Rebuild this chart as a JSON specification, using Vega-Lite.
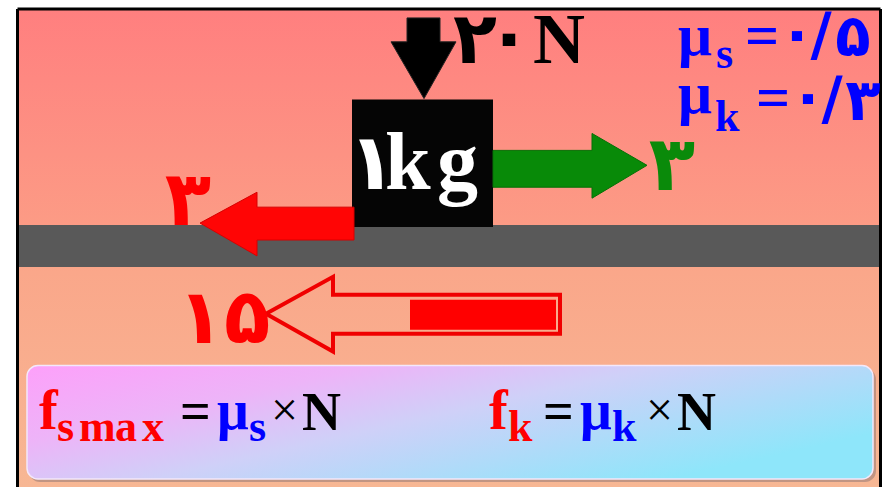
{
  "$schema": "https://vega.github.io/schema/vega-lite/v6.json",
  "autosize": {"type": "fit", "contains": "padding"},
  "width": 884,
  "height": 489,
  "padding": 0,
  "background": "white",
  "config": {"view": {"stroke": null}},
  "encoding": {
    "x": {"field": "x", "type": "quantitative", "axis": null, "scale": {"domain": [0, 884], "nice": false, "zero": false}},
    "y": {"field": "y", "type": "quantitative", "axis": null, "scale": {"domain": [0, 489], "nice": false, "zero": false, "reverse": true}}
  },
  "layer": [
    {
      "data": {"values": [{"x": 17.5, "x2": 880.5, "y": 9, "y2": 489}]},
      "mark": {"type": "rect", "fill": {"gradient": "linear", "x1": 0, "y1": 0, "x2": 0, "y2": 1, "stops": [{"offset": 0, "color": "#FF7F7F"}, {"offset": 0.45, "color": "#FC9B85"}, {"offset": 0.55, "color": "#FAA78A"}, {"offset": 1, "color": "#F7B794"}]}},
      "encoding": {"x2": {"field": "x2"}, "y2": {"field": "y2"}}
    },
    {
      "data": {"values": [{"x": 17.5, "x2": 880.5, "y": 226, "y2": 268}]},
      "mark": {"type": "rect", "fill": "#595959"},
      "encoding": {"x2": {"field": "x2"}, "y2": {"field": "y2"}}
    },
    {
      "data": {"values": [{"x": 17.5, "x2": 880.5, "y": 9, "y2": 9}, {"x": 17.5, "x2": 17.5, "y": 9, "y2": 489}, {"x": 880.5, "x2": 880.5, "y": 9, "y2": 489}]},
      "mark": {"type": "rule", "stroke": "#000000", "strokeWidth": 3},
      "encoding": {"x2": {"field": "x2"}, "y2": {"field": "y2"}}
    },
    {
      "data": {"values": [{"x": 352, "x2": 493, "y": 100, "y2": 228}]},
      "mark": {"type": "rect", "fill": "#050505"},
      "encoding": {"x2": {"field": "x2"}, "y2": {"field": "y2"}}
    },
    {
      "data": {"values": [{"y": 18, "x": 407, "x2": 440}, {"y": 42, "x": 407, "x2": 440}, {"y": 42.01, "x": 391, "x2": 456}, {"y": 99, "x": 424, "x2": 424}]},
      "mark": {"type": "area", "orient": "horizontal", "interpolate": "linear", "fill": "#000000", "stroke": "#222222", "strokeWidth": 1},
      "encoding": {"x2": {"field": "x2"}}
    },
    {
      "data": {"values": [{"x": 493, "y": 151, "y2": 188}, {"x": 592, "y": 151, "y2": 188}, {"x": 592.01, "y": 134, "y2": 199}, {"x": 647, "y": 166, "y2": 166}]},
      "mark": {"type": "area", "orient": "vertical", "interpolate": "linear", "fill": "#088A08", "stroke": "#067006", "strokeWidth": 1},
      "encoding": {"y2": {"field": "y2"}}
    },
    {
      "data": {"values": [{"x": 200, "y": 224, "y2": 224}, {"x": 257, "y": 193, "y2": 257}, {"x": 257.01, "y": 208, "y2": 241}, {"x": 354, "y": 208, "y2": 241}]},
      "mark": {"type": "area", "orient": "vertical", "interpolate": "linear", "fill": "#FF0505", "stroke": "#D80000", "strokeWidth": 1},
      "encoding": {"y2": {"field": "y2"}}
    },
    {
      "data": {"values": [{"x": 266, "y": 315, "y2": 315}, {"x": 333, "y": 278, "y2": 353}, {"x": 333.01, "y": 296, "y2": 335}, {"x": 560, "y": 296, "y2": 335}]},
      "mark": {"type": "area", "orient": "vertical", "interpolate": "linear", "fillOpacity": 0, "stroke": "#F00000", "strokeWidth": 4},
      "encoding": {"y2": {"field": "y2"}}
    },
    {
      "data": {"values": [{"x": 410, "x2": 556, "y": 301, "y2": 331}]},
      "mark": {"type": "rect", "fill": "#FF0000"},
      "encoding": {"x2": {"field": "x2"}, "y2": {"field": "y2"}}
    },
    {
      "data": {"values": [{"x": 29, "x2": 876, "y": 370, "y2": 484}]},
      "mark": {"type": "rect", "fill": "#9C7E78", "opacity": 0.6, "cornerRadius": 11},
      "encoding": {"x2": {"field": "x2"}, "y2": {"field": "y2"}}
    },
    {
      "data": {"values": [{"x": 27, "x2": 873, "y": 367, "y2": 481}]},
      "mark": {"type": "rect", "cornerRadius": 11, "stroke": "#F4E8FA", "strokeWidth": 1.5, "fill": {"gradient": "linear", "x1": 0, "y1": 0, "x2": 1, "y2": 0.6, "stops": [{"offset": 0, "color": "#FDA0FA"}, {"offset": 0.3, "color": "#EDB4F8"}, {"offset": 0.55, "color": "#CFD0F8"}, {"offset": 1, "color": "#8EE6FA"}]}},
      "encoding": {"x2": {"field": "x2"}, "y2": {"field": "y2"}}
    },
    {
      "data": {"values": [{"t": "N", "x": 533, "y": 63}]},
      "mark": {"type": "text", "align": "left", "baseline": "alphabetic", "font": "Liberation Serif", "fontWeight": "bold", "fontSize": 72, "fill": "#000000"},
      "encoding": {"text": {"field": "t"}}
    },
    {
      "data": {"values": [{"t": "۲", "x": 475, "y": 63}, {"t": "۰", "x": 509, "y": 60}]},
      "mark": {"type": "text", "align": "center", "baseline": "alphabetic", "font": "DejaVu Sans", "fontWeight": "bold", "fontSize": 72, "fill": "#000000"},
      "encoding": {"text": {"field": "t"}}
    },
    {
      "data": {"values": [{"t": "k", "x": 385, "y": 190}, {"t": "g", "x": 437, "y": 190}]},
      "mark": {"type": "text", "align": "left", "baseline": "alphabetic", "font": "Liberation Serif", "fontWeight": "bold", "fontSize": 82, "fill": "#FFFFFF"},
      "encoding": {"text": {"field": "t"}}
    },
    {
      "data": {"values": [{"t": "۱", "x": 372, "y": 190}]},
      "mark": {"type": "text", "align": "center", "baseline": "alphabetic", "font": "DejaVu Sans", "fontWeight": "bold", "fontSize": 78, "fill": "#FFFFFF"},
      "encoding": {"text": {"field": "t"}}
    },
    {
      "data": {"values": [{"t": "μ", "x": 678, "y": 55}, {"t": "=", "x": 745, "y": 55}, {"t": "μ", "x": 678, "y": 113}, {"t": "=", "x": 756, "y": 117}]},
      "mark": {"type": "text", "align": "left", "baseline": "alphabetic", "font": "Liberation Serif", "fontWeight": "bold", "fontSize": 60, "fill": "#0000FF"},
      "encoding": {"text": {"field": "t"}}
    },
    {
      "data": {"values": [{"t": "s", "x": 716, "y": 68}, {"t": "k", "x": 715, "y": 132}]},
      "mark": {"type": "text", "align": "left", "baseline": "alphabetic", "font": "Liberation Serif", "fontWeight": "bold", "fontSize": 44, "fill": "#0000FF"},
      "encoding": {"text": {"field": "t"}}
    },
    {
      "data": {"values": [{"t": "۰", "x": 797, "y": 52}, {"t": "/", "x": 821, "y": 55}, {"t": "۵", "x": 853, "y": 56}, {"t": "۰", "x": 808, "y": 115}, {"t": "/", "x": 832, "y": 119}, {"t": "۳", "x": 863, "y": 120}]},
      "mark": {"type": "text", "align": "center", "baseline": "alphabetic", "font": "DejaVu Sans", "fontWeight": "bold", "fontSize": 58, "fill": "#0000FF"},
      "encoding": {"text": {"field": "t"}}
    },
    {
      "data": {"values": [{"t": "۳", "x": 672, "y": 191}]},
      "mark": {"type": "text", "align": "center", "baseline": "alphabetic", "font": "DejaVu Sans", "fontWeight": "bold", "fontSize": 76, "fill": "#0A8A0A"},
      "encoding": {"text": {"field": "t"}}
    },
    {
      "data": {"values": [{"t": "۳", "x": 188, "y": 226}, {"t": "۱۵", "x": 224, "y": 344}]},
      "mark": {"type": "text", "align": "center", "baseline": "alphabetic", "font": "DejaVu Sans", "fontWeight": "bold", "fontSize": 76, "fill": "#FF0000"},
      "encoding": {"text": {"field": "t"}}
    },
    {
      "data": {"values": [{"t": "f", "x": 39, "y": 431}, {"t": "f", "x": 489, "y": 431}]},
      "mark": {"type": "text", "align": "left", "baseline": "alphabetic", "font": "Liberation Serif", "fontWeight": "bold", "fontSize": 56, "fill": "#FF0000"},
      "encoding": {"text": {"field": "t"}}
    },
    {
      "data": {"values": [{"t": "s", "x": 57, "y": 443}, {"t": "m", "x": 79, "y": 443}, {"t": "a", "x": 115, "y": 443}, {"t": "x", "x": 142, "y": 443}, {"t": "k", "x": 508, "y": 443}]},
      "mark": {"type": "text", "align": "left", "baseline": "alphabetic", "font": "Liberation Serif", "fontWeight": "bold", "fontSize": 44, "fill": "#FF0000"},
      "encoding": {"text": {"field": "t"}}
    },
    {
      "data": {"values": [{"t": "μ", "x": 217, "y": 431}, {"t": "μ", "x": 580, "y": 431}]},
      "mark": {"type": "text", "align": "left", "baseline": "alphabetic", "font": "Liberation Serif", "fontWeight": "bold", "fontSize": 56, "fill": "#0000FF"},
      "encoding": {"text": {"field": "t"}}
    },
    {
      "data": {"values": [{"t": "s", "x": 249, "y": 443}, {"t": "k", "x": 612, "y": 443}]},
      "mark": {"type": "text", "align": "left", "baseline": "alphabetic", "font": "Liberation Serif", "fontWeight": "bold", "fontSize": 44, "fill": "#0000FF"},
      "encoding": {"text": {"field": "t"}}
    },
    {
      "data": {"values": [{"t": "=", "x": 180, "y": 431}, {"t": "=", "x": 543, "y": 431}, {"t": "N", "x": 302, "y": 432}, {"t": "N", "x": 677, "y": 432}]},
      "mark": {"type": "text", "align": "left", "baseline": "alphabetic", "font": "Liberation Serif", "fontWeight": "bold", "fontSize": 54, "fill": "#000000"},
      "encoding": {"text": {"field": "t"}}
    },
    {
      "data": {"values": [{"t": "×", "x": 271, "y": 428}, {"t": "×", "x": 646, "y": 428}]},
      "mark": {"type": "text", "align": "left", "baseline": "alphabetic", "font": "Liberation Serif", "fontSize": 48, "fill": "#000000"},
      "encoding": {"text": {"field": "t"}}
    }
  ]
}
